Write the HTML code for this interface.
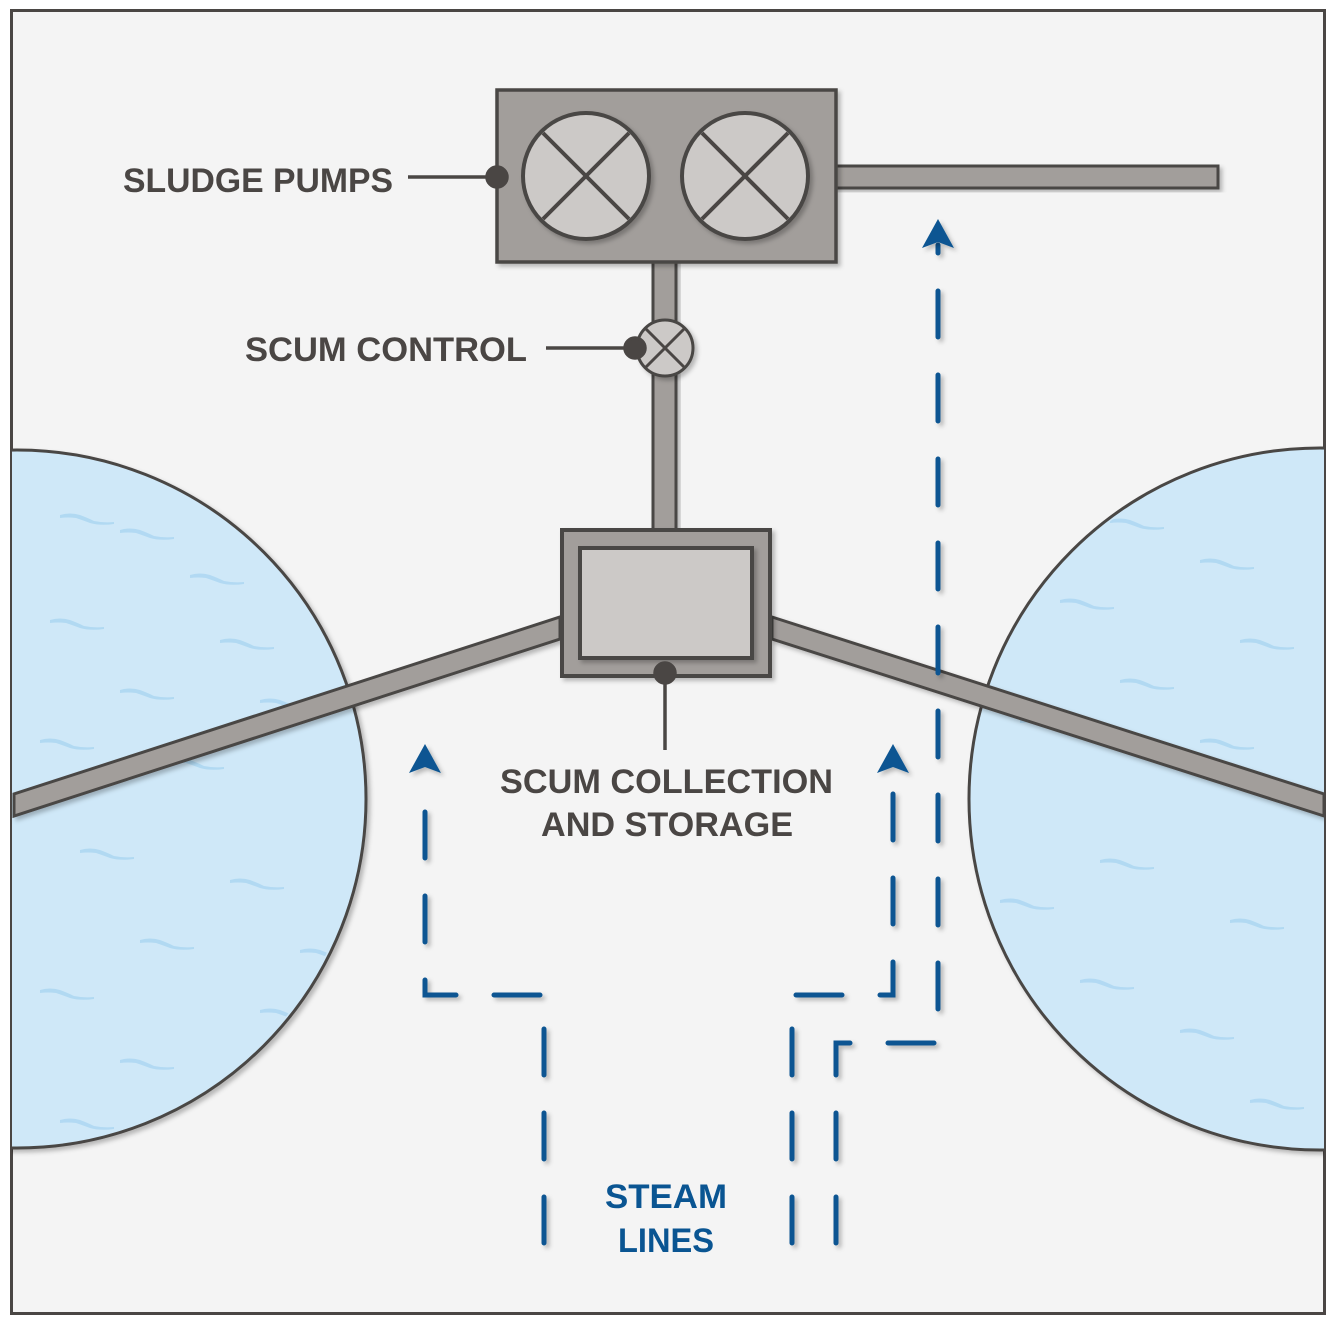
<!DOCTYPE html>
<html><head><meta charset="utf-8"><style>
html,body{margin:0;padding:0;background:#fff;}
svg{display:block;}
text{font-family:"Liberation Sans",sans-serif;font-weight:bold;font-size:34px;}
</style></head><body>
<svg width="1336" height="1326" viewBox="0 0 1336 1326" xmlns="http://www.w3.org/2000/svg">
<defs>
<filter id="sh" x="-10%" y="-10%" width="130%" height="130%"><feDropShadow dx="3" dy="3" stdDeviation="2" flood-color="#000" flood-opacity="0.25"/></filter>
<clipPath id="frame"><rect x="12" y="12" width="1312" height="1300"/></clipPath>
<clipPath id="lc"><circle cx="17" cy="799" r="346"/></clipPath>
<clipPath id="rc"><circle cx="1320" cy="799" r="348"/></clipPath>
<g id="rip" fill="#aed8f2">
<path d="M0 0 q10 -3 20 0 q8 3 14 6 q10 2 20 1 l0 2 q-14 2 -24 -1 q-8 -3 -14 -5 q-8 -1 -16 0z"/>
</g>
</defs>
<rect width="1336" height="1326" fill="#ffffff"/>
<rect x="11.5" y="10.5" width="1313" height="1303" fill="#f4f4f4" stroke="#4a4644" stroke-width="3"/>
<g clip-path="url(#frame)">
<circle cx="17" cy="799" r="349" fill="#cfe8f8" stroke="#4a4644" stroke-width="3" filter="url(#sh)"/>
<circle cx="1320" cy="799" r="351" fill="#cfe8f8" stroke="#4a4644" stroke-width="3" filter="url(#sh)"/>
<g opacity="0.9" clip-path="url(#lc)">
<use href="#rip" x="60" y="515"/><use href="#rip" x="120" y="530"/><use href="#rip" x="190" y="575"/><use href="#rip" x="50" y="620"/><use href="#rip" x="220" y="640"/><use href="#rip" x="120" y="690"/><use href="#rip" x="260" y="700"/><use href="#rip" x="40" y="740"/><use href="#rip" x="170" y="760"/><use href="#rip" x="80" y="850"/><use href="#rip" x="230" y="880"/><use href="#rip" x="140" y="940"/><use href="#rip" x="40" y="990"/><use href="#rip" x="260" y="1010"/><use href="#rip" x="120" y="1060"/><use href="#rip" x="210" y="1100"/><use href="#rip" x="60" y="1120"/><use href="#rip" x="300" y="950"/>
</g>
<g opacity="0.9" clip-path="url(#rc)">
<use href="#rip" x="1110" y="520"/><use href="#rip" x="1200" y="560"/><use href="#rip" x="1060" y="600"/><use href="#rip" x="1240" y="640"/><use href="#rip" x="1120" y="680"/><use href="#rip" x="1020" y="720"/><use href="#rip" x="1200" y="740"/><use href="#rip" x="1100" y="860"/><use href="#rip" x="1000" y="900"/><use href="#rip" x="1230" y="920"/><use href="#rip" x="1080" y="980"/><use href="#rip" x="1180" y="1030"/><use href="#rip" x="1040" y="1070"/><use href="#rip" x="1250" y="1100"/><use href="#rip" x="1140" y="1120"/>
</g>
<g filter="url(#sh)">
<polygon points="560,617 560,639 14,816 14,794" fill="#a29e9b" stroke="#4a4644" stroke-width="3"/>
<polygon points="772,617 772,639 1324,816 1324,794" fill="#a29e9b" stroke="#4a4644" stroke-width="3"/>
</g>
</g>
<rect x="834" y="166" width="384" height="22" fill="#a29e9b" stroke="#4a4644" stroke-width="3" filter="url(#sh)"/>
<rect x="653" y="258" width="23" height="275" fill="#a29e9b" stroke="#4a4644" stroke-width="3" filter="url(#sh)"/>
<rect x="497" y="90" width="339" height="172" fill="#a29e9b" stroke="#4a4644" stroke-width="3.5" filter="url(#sh)"/>
<g stroke="#4a4644" stroke-width="4">
<circle cx="586" cy="176" r="63" fill="#ccc9c7" filter="url(#sh)"/>
<line x1="543" y1="133" x2="629" y2="219"/><line x1="629" y1="133" x2="543" y2="219"/>
<circle cx="745" cy="176" r="63" fill="#ccc9c7" filter="url(#sh)"/>
<line x1="702" y1="133" x2="788" y2="219"/><line x1="788" y1="133" x2="702" y2="219"/>
</g>
<g stroke="#4a4644" stroke-width="3">
<circle cx="665" cy="348" r="28" fill="#ccc9c7" filter="url(#sh)"/>
<line x1="646" y1="329" x2="684" y2="367"/><line x1="684" y1="329" x2="646" y2="367"/>
</g>
<rect x="562" y="530" width="208" height="146" fill="#a29e9b" stroke="#4a4644" stroke-width="4" filter="url(#sh)"/>
<rect x="580" y="548" width="172" height="110" fill="#ccc9c7" stroke="#4a4644" stroke-width="4" filter="url(#sh)"/>
<g stroke="#4a4644" stroke-width="3.5" fill="#4a4644">
<line x1="408" y1="177" x2="496" y2="177"/><circle cx="497" cy="177" r="10"/>
<line x1="546" y1="348" x2="634" y2="348"/><circle cx="635" cy="348" r="10"/>
<line x1="665" y1="673" x2="665" y2="750"/><circle cx="665" cy="673" r="10"/>
</g>
<g fill="none" stroke="#0a5592" stroke-width="5" stroke-linecap="round" filter="url(#sh)">
<path d="M544 1243 L544 995 L425 995 L425 785" stroke-dasharray="46 38"/>
<path d="M792 1243 L792 995 L893 995 L893 785" stroke-dasharray="46 38"/>
<path d="M836 1243 L836 1043 L938 1043 L938 245" stroke-dasharray="46 38"/>
</g>
<g fill="#0a5592" filter="url(#sh)">
<polygon points="425,744 409,773 425,767 441,773"/>
<polygon points="893,744 877,773 893,767 909,773"/>
<polygon points="938,219 922,248 938,242 954,248"/>
</g>
<g fill="#4a4644">
<text x="123" y="192" textLength="270" lengthAdjust="spacingAndGlyphs">SLUDGE PUMPS</text>
<text x="245" y="361" textLength="282" lengthAdjust="spacingAndGlyphs">SCUM CONTROL</text>
<text x="500" y="793" textLength="333" lengthAdjust="spacingAndGlyphs">SCUM COLLECTION</text>
<text x="541" y="836" textLength="252" lengthAdjust="spacingAndGlyphs">AND STORAGE</text>
</g>
<g fill="#0a5592">
<text x="605" y="1208" textLength="122" lengthAdjust="spacingAndGlyphs">STEAM</text>
<text x="618" y="1252" textLength="96" lengthAdjust="spacingAndGlyphs">LINES</text>
</g>
</svg>
</body></html>
